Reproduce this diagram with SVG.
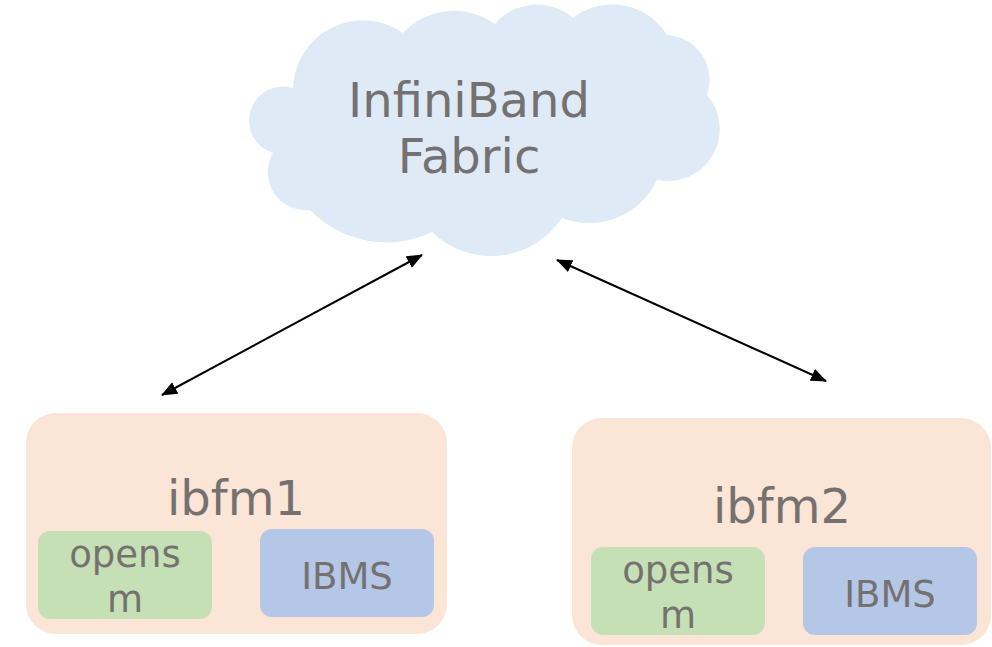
<svg xmlns="http://www.w3.org/2000/svg" width="992" height="647" viewBox="0 0 992 647">
<style>
text{font-family:"DejaVu Sans",sans-serif;fill:#767171;text-anchor:middle}
.big{font-size:48px}
.mid{font-size:37px}
.host{fill:#fbe5d6}
.osm{fill:#c5e0b4}
.ibms{fill:#b4c7e7}
.cloud{fill:#deebf7}
.conn{stroke:#000;stroke-width:2;fill:none}
</style>
<defs>
<marker id="ah" viewBox="0 0 16 13" refX="15" refY="6.5" markerWidth="16" markerHeight="13" markerUnits="userSpaceOnUse" orient="auto-start-reverse">
<path d="M0,0 L16,6.5 L0,13 Z" fill="#000"/>
</marker>
</defs>
<g id="fabric">
<path class="cloud" d="M293,88 A70,70 0 0 1 403,33 A70,70 0 0 1 495,24 A55,55 0 0 1 573,18 A64,64 0 0 1 667,35 A45,45 0 0 1 707,95 A52,52 0 0 1 657,180 A75,75 0 0 1 562,218 A85,85 0 0 1 432,232 A106,106 0 0 1 310,210 A38,38 0 0 1 273,153 A34,34 0 0 1 293,88 Z"/>
<text class="big" x="469" y="117">InfiniBand</text>
<text class="big" x="469" y="173">Fabric</text>
</g>
<g id="ibfm1">
<rect class="host" x="26" y="413" width="421" height="221" rx="30"/>
<text class="big" x="236" y="515">ibfm1</text>
</g>
<g id="opensm1">
<rect class="osm" x="38" y="531" width="174" height="88" rx="12"/>
<text class="mid" x="125" y="567">opens</text>
<text class="mid" x="125" y="612">m</text>
</g>
<g id="ibms1">
<rect class="ibms" x="260" y="529" width="174" height="88" rx="12"/>
<text class="mid" x="347" y="589">IBMS</text>
</g>
<g id="ibfm2">
<rect class="host" x="572" y="418" width="419" height="227" rx="30"/>
<text class="big" x="782" y="523">ibfm2</text>
</g>
<g id="opensm2">
<rect class="osm" x="591" y="547" width="174" height="88" rx="12"/>
<text class="mid" x="678" y="583">opens</text>
<text class="mid" x="678" y="628">m</text>
</g>
<g id="ibms2">
<rect class="ibms" x="803" y="547" width="174" height="88" rx="12"/>
<text class="mid" x="890" y="607">IBMS</text>
</g>
<g id="connectors">
<line class="conn" x1="162" y1="395" x2="422" y2="255" marker-start="url(#ah)" marker-end="url(#ah)"/>
<line class="conn" x1="557" y1="260" x2="826" y2="381" marker-start="url(#ah)" marker-end="url(#ah)"/>
</g>
</svg>
